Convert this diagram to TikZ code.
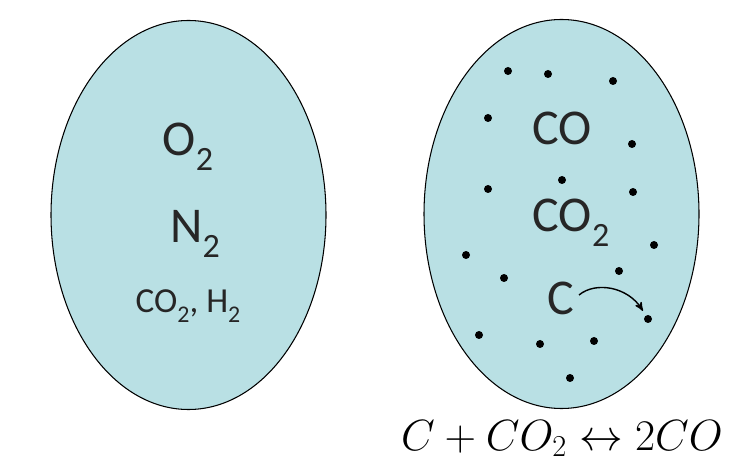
\documentclass[tikz,border=0pt]{standalone}
\usepackage{fontspec}
\setmainfont{Carlito}
\usepackage{tikz, xcolor}
\usetikzlibrary{shapes,arrows}
\definecolor{gasfill}{RGB}{185,224,228}
\definecolor{inktext}{RGB}{38,38,38}
\newcommand{\gsub}[1]{\raisebox{-0.28em}{\scalebox{0.68}{#1}}}

\begin{document}
\begin{tikzpicture}[x=0.02cm, y=-0.02cm]
\tikzstyle{chamber}=[ellipse, draw=black, line width=0.6pt, fill=gasfill, minimum width=275*0.02cm, minimum height=389*0.02cm, inner sep=0pt]
\tikzstyle{gasbig}=[anchor=base, inner sep=0pt, text=inktext, font=\fontsize{28.5}{32}\selectfont]
\tikzstyle{gassmall}=[anchor=base, inner sep=0pt, text=inktext, font=\fontsize{20}{24}\selectfont]
\tikzstyle{particle}=[circle, fill=black, inner sep=0pt, minimum size=0.16cm]
\tikzstyle{drawstyle}=[line width=0.8pt, ->, >=stealth', shorten >=3pt]

\useasboundingbox (0,0) rectangle (753,472);

\node[chamber] (L) at (188.5,215) {};
\node[chamber] (R) at (561.5,214) {};

\node[gasbig] (O2) at (188,156) {O\gsub{2}};
\node[gasbig] (N2) at (195,243) {N\gsub{2}};
\node[gassmall] (CH) at (188,313) {CO\gsub{2}, H\gsub{2}};

\node[gasbig] (CO) at (562,145) {CO};
\node[gasbig] (CO2) at (571,232) {CO\gsub{2}};
\node[gasbig] (C) at (561,315) {C};

\node[particle] (d1) at (508,71) {};
\node[particle] (d2) at (548,74) {};
\node[particle] (d3) at (613,81) {};
\node[particle] (d4) at (488,118) {};
\node[particle] (d5) at (632,144) {};
\node[particle] (d6) at (562,180) {};
\node[particle] (d7) at (488,189) {};
\node[particle] (d8) at (633,192) {};
\node[particle] (d9) at (654,245) {};
\node[particle] (d10) at (466,255) {};
\node[particle] (d11) at (504,278) {};
\node[particle] (d12) at (619,271) {};
\node[particle] (d13) at (648,319) {};
\node[particle] (d14) at (479,335) {};
\node[particle] (d15) at (540,344) {};
\node[particle] (d16) at (594,341) {};
\node[particle] (d17) at (570,378) {};

\coordinate (cTail) at (579,295);
\draw[drawstyle] (cTail) .. controls (596,281) and (628,287) .. (d13);

\node[anchor=base, inner sep=0pt, font=\fontsize{23}{27}\selectfont] (eq) at (562,450) {$C + CO_2 \leftrightarrow 2CO$};
\end{tikzpicture}
\end{document}
